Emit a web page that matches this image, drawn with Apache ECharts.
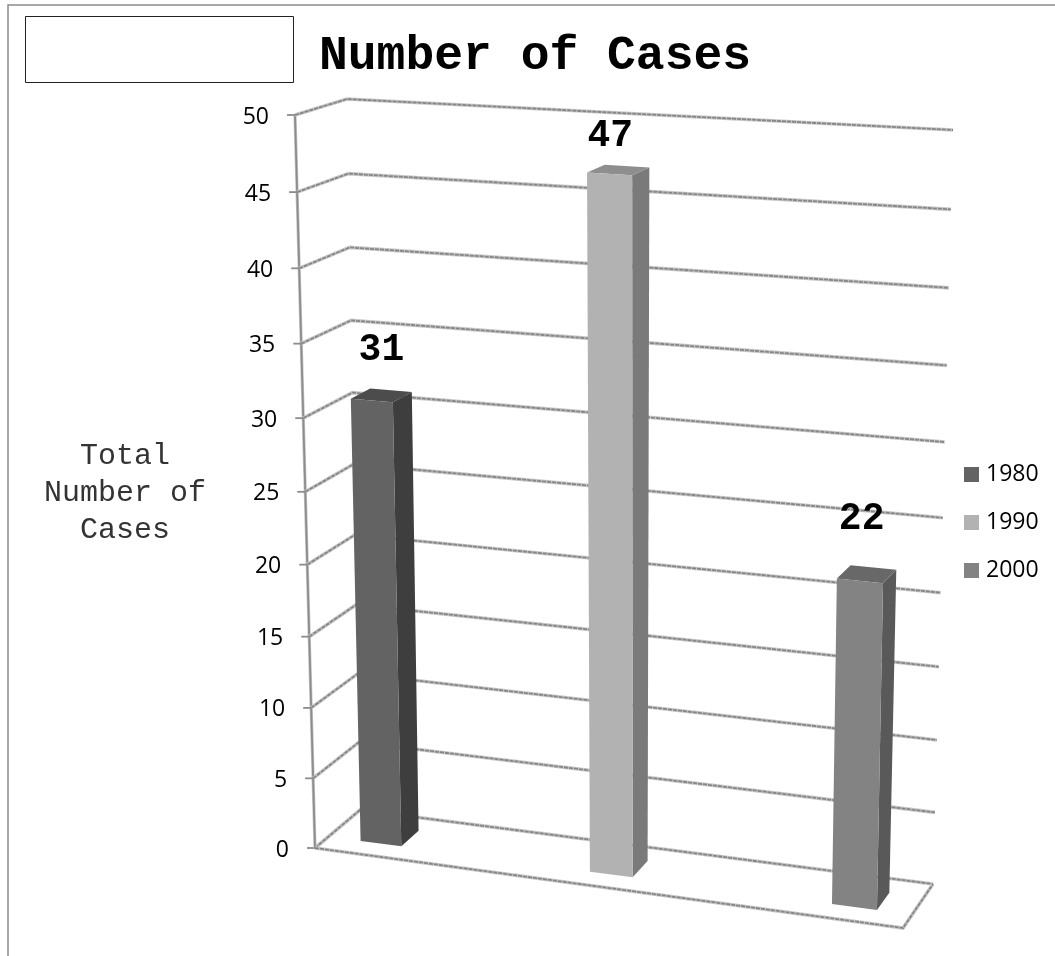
<!DOCTYPE html>
<html><head><meta charset="utf-8">
<script src="https://cdn.jsdelivr.net/npm/echarts@6/dist/echarts.min.js"></script>
<style>html,body{margin:0;padding:0;background:#fff}#c{width:1055px;height:956px}</style>
</head><body><div id="c"></div>
<script>
// ---- values ----
const chartTitle = 'Number of Cases';
const axisTitle = 'Total\nNumber of\nCases';
const yTicks = [0, 5, 10, 15, 20, 25, 30, 35, 40, 45, 50];
const seriesNames = ['1980', '1990', '2000'];
const seriesValues = [31, 47, 22];

// ---- styling / perspective ----
const frontFace = ['#636363', '#b2b2b2', '#838383'];
const sideFace  = ['#3e3e3e', '#7a7a7a', '#595959'];
const topFace   = ['#4c4c4c', '#8e8e8e', '#686868'];
const slotCentre = [0.285, 1.50, 2.72];
const slotHalf = 0.11;
const depthFront = 0.30, depthBack = 0.70;
const labelLift = [42, 31, 50];
const labelShift = [0, -8, -5];
const G = {left: 315, top: 115, width: 588, height: 733};

function quad(p0, p1, p2, p3) {
  const dx1=p1[0]-p2[0], dx2=p3[0]-p2[0], dx3=p0[0]-p1[0]+p2[0]-p3[0];
  const dy1=p1[1]-p2[1], dy2=p3[1]-p2[1], dy3=p0[1]-p1[1]+p2[1]-p3[1];
  const den=dx1*dy2-dx2*dy1;
  const g=(dx3*dy2-dx2*dy3)/den, h=(dx1*dy3-dx3*dy1)/den;
  const a=p1[0]-p0[0]+g*p1[0], b=p3[0]-p0[0]+h*p3[0], c=p0[0];
  const d=p1[1]-p0[1]+g*p1[1], e=p3[1]-p0[1]+h*p3[1], f=p0[1];
  return (s,t)=>{const w=g*s+h*t+1;return [(a*s+b*t+c)/w,(d*s+e*t+f)/w];};
}
// corners: bottom-left, bottom-right, top-right, top-left
const frontPlane = quad([315,848],[903,928],[918,150],[295,115]);
const backPlane  = quad([360,810],[933,884],[953,130],[347,99]);

function projector(api) {
  return function (u, v, d) {
    const c = api.coord([u, v]);
    const s = (c[0]-G.left)/G.width, t = (G.top+G.height-c[1])/G.height;
    const a = frontPlane(s,t), b = backPlane(s,t);
    return [a[0]+(b[0]-a[0])*d, a[1]+(b[1]-a[1])*d];
  };
}
function stroke(points) {
  return [
    {type:'polyline', shape:{points}, style:{stroke:'#c8c8c8', lineWidth:3.6, fill:null}},
    {type:'polyline', shape:{points}, style:{stroke:'#868686', lineWidth:1.8, lineDash:[4,1], fill:null}}
  ];
}
function renderWall(params, api) {
  const P = projector(api), v = api.value(0), children = [];
  const f = P(0,v,0), bl = P(0,v,1), br = P(3,v,1);
  children.push(...stroke([f, bl, br]));
  children.push({type:'line', shape:{x1:f[0]-8,y1:f[1],x2:f[0],y2:f[1]}, style:{stroke:'#8c8c8c', lineWidth:1.8}});
  children.push({type:'text', style:{text:String(v), x:f[0]-26, y:f[1]+2, align:'right', verticalAlign:'middle',
    font:'23px "Open Sans"', fill:'#000'}});
  if (v === 0) {
    children.push({type:'polyline', shape:{points:[P(0,0,0),P(0,50,0)]}, style:{stroke:'#c6c6c6',lineWidth:3.2,fill:null}});
    children.push({type:'polyline', shape:{points:[P(0,0,0),P(0,50,0)]}, style:{stroke:'#8c8c8c',lineWidth:1.8,fill:null}});
    children.push(...stroke([P(0,0,0),P(3,0,0),P(3,0,1)]));
  }
  return {type:'group', children};
}
function renderBar(i) {
  return function (params, api) {
    const P = projector(api), u = api.value(0), v = api.value(1);
    const l=u-slotHalf, r=u+slotHalf, d0=depthFront, d1=depthBack;
    const poly=(pts,col)=>({type:'polygon', shape:{points:pts}, style:{fill:col}});
    const top=P(u,v,(d0+d1)/2);
    const backTop=P(r,v,d1);
    return {type:'group', children:[
      poly([P(r,0,d0),P(r,0,d1),P(r,v,d1),P(r,v,d0)], sideFace[i]),
      poly([P(l,v,d0),P(r,v,d0),P(r,v,d1),P(l,v,d1)], topFace[i]),
      poly([P(l,0,d0),P(r,0,d0),P(r,v,d0),P(l,v,d0)], frontFace[i]),
      {type:'text', style:{text:String(v), x:top[0]+labelShift[i], y:backTop[1]-labelLift[i], align:'center', verticalAlign:'middle',
        font:'bold 38px "Liberation Mono"', fill:'#000'}}
    ]};
  };
}

const chart = echarts.init(document.getElementById('c'), null, {renderer:'canvas'});
chart.setOption({
  animation:false,
  backgroundColor:'#fff',
  title:{text:chartTitle, left:314, top:28, textStyle:{fontFamily:'Liberation Mono', fontWeight:'bold', fontSize:48, color:'#000'}},
  legend:{orient:'vertical', left:959, top:458, itemWidth:15, itemHeight:15, itemGap:25, selectedMode:false,
    data:seriesNames.map(n=>({name:n, icon:'rect'})),
    textStyle:{fontFamily:'Open Sans', fontSize:23, color:'#000', padding:[0,0,0,2]}},
  grid:{left:G.left, top:G.top, width:G.width, height:G.height},
  xAxis:{type:'value', min:0, max:3, show:false},
  yAxis:{type:'value', min:0, max:50, interval:5, show:false},
  graphic:[
    {type:'polyline', silent:true, shape:{points:[[8,956],[8,5],[1055,5]]}, style:{stroke:'#8a8a8a', lineWidth:1.5, fill:null}},
    {type:'rect', silent:true, shape:{x:25.5,y:16.5,width:268,height:66}, style:{stroke:'#222', lineWidth:1, fill:'#fff'}},
    {type:'text', silent:true, style:{text:axisTitle, x:125, y:493, align:'center', verticalAlign:'middle', lineHeight:37,
      font:'30px "Liberation Mono"', fill:'#333'}}
  ],
  series:[
    {type:'custom', name:'walls', silent:true, coordinateSystem:'cartesian2d', data:yTicks.map(t=>[t]), renderItem:renderWall, encode:{y:0}, z:1}
  ].concat(seriesNames.map((n,i)=>({
    type:'custom', name:n, coordinateSystem:'cartesian2d', itemStyle:{color:frontFace[i]}, z:2+i, clip:false,
    data:[[slotCentre[i], seriesValues[i]]], renderItem:renderBar(i), encode:{x:0,y:1}
  })))
});
</script></body></html>
